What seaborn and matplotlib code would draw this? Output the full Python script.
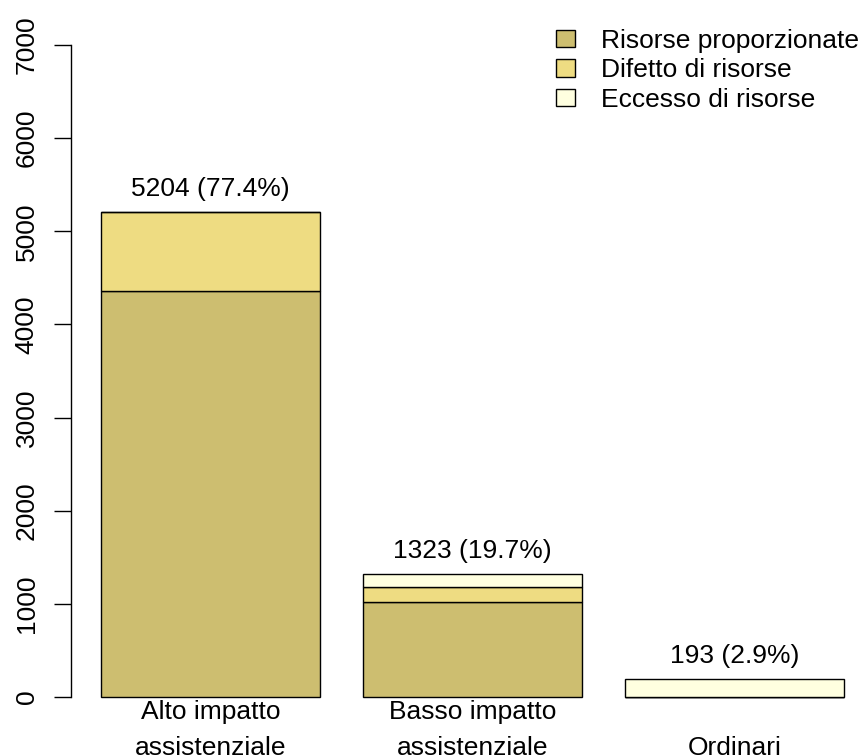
import matplotlib.pyplot as plt
import numpy as np
import pandas as pd
import seaborn as sns
from matplotlib.patches import Patch

# ---- data -------------------------------------------------------------
categories = ["Alto impatto\nassistenziale", "Basso impatto\nassistenziale", "Ordinari"]
proporzionate = [4360, 1015, 0]
difetto = [844, 165, 0]
eccesso = [0, 143, 193]
series_names = ["Risorse proporzionate", "Difetto di risorse", "Eccesso di risorse"]
yticks = [0, 1000, 2000, 3000, 4000, 5000, 6000, 7000]

COLORS = ["#CDBE70", "#EEDC82", "#FFFFE0"]
FS = 19

sns.set_theme(style="white")
plt.rcParams["font.family"] = ["Liberation Sans", "DejaVu Sans"]
plt.rcParams.update({"text.color": "black", "xtick.color": "black",
                     "ytick.color": "black", "axes.labelcolor": "black"})

df = pd.DataFrame({"categoria": categories,
                   "prop": proporzionate, "dif": difetto, "ecc": eccesso})
layers = [("prop", series_names[0]), ("dif", series_names[1]), ("ecc", series_names[2])]

W, H = 865, 756
fig = plt.figure(figsize=(W / 100, H / 100), dpi=100)
ax = fig.add_axes([71.2 / W, 32.9 / H, 1 - 71.2 / W, 704.2 / H])

bottom = np.zeros(len(df))
for (col, name), color in zip(layers, COLORS):
    sns.barplot(data=df, x="categoria", y=col, order=categories, bottom=bottom,
                color=color, saturation=1, width=0.836, errorbar=None,
                edgecolor="black", linewidth=1.0, ax=ax)
    bottom = bottom + df[col].to_numpy()

# totals + share above each bar
totals = bottom
for i, t in enumerate(totals):
    ax.annotate(f"{t:.0f} ({100 * t / totals.sum():.1f}%)", (i, t),
                xytext=(0, 11.5), textcoords="offset points",
                ha="center", va="baseline", fontsize=FS, color="black")

ax.set_xlim(-0.532, 2.498)
ax.set_ylim(-280, 7280)
ax.set_yticks(yticks)
ax.set_xlabel("")
ax.set_ylabel("")

for s in ["top", "right", "bottom"]:
    ax.spines[s].set_visible(False)
ax.spines["left"].set_bounds(0, 7000)
ax.spines["left"].set_linewidth(1.0)
ax.spines["left"].set_color("black")

ax.tick_params(axis="y", length=12, width=1.0, color="black", pad=11.5,
               labelsize=FS, labelrotation=90, left=True, labelcolor="black")
for lab in ax.get_yticklabels():
    lab.set_va("center")
ax.tick_params(axis="x", length=0, pad=23, labelsize=FS, labelcolor="black")
for lab in ax.get_xticklabels():
    lab.set_va("baseline")
    lab.set_linespacing(1.65)

handles = [Patch(facecolor=c, edgecolor="black", linewidth=1.0) for c in COLORS]
leg = fig.legend(handles, series_names, loc="upper left",
                 bbox_to_anchor=(556 / W, 1 - 29 / H), bbox_transform=fig.transFigure,
                 frameon=False, fontsize=FS, handlelength=0.72, handleheight=0.64,
                 handletextpad=0.98, labelspacing=0.2, borderpad=0, borderaxespad=0)
for t in leg.get_texts():
    t.set_color("black")

fig.savefig("out.png", dpi=100)
